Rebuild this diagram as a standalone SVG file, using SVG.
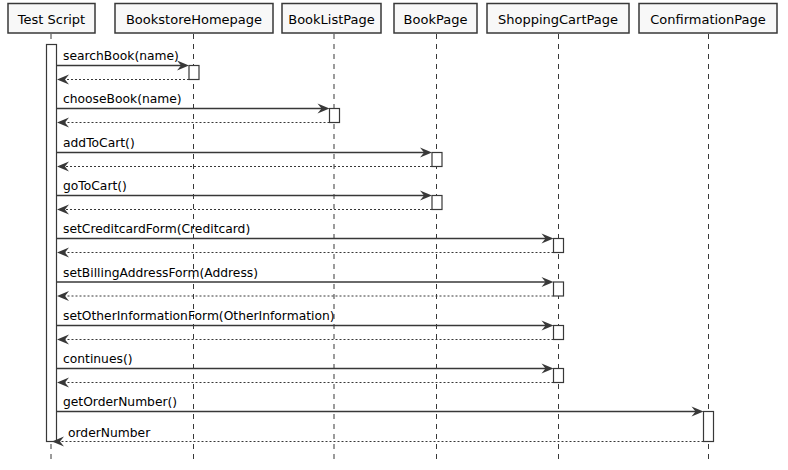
<svg xmlns="http://www.w3.org/2000/svg" width="788" height="470" viewBox="0 0 788 470">
<style>
.hd{fill:#F8F8F8;stroke:#383838;stroke-width:1.5}
.ht{font-family:"DejaVu Sans",sans-serif;font-size:13px;fill:#000;text-anchor:middle}
.ll{stroke:#383838;stroke-width:1;stroke-dasharray:5,5}
.act{fill:#fff;stroke:#383838;stroke-width:1.2}
.msg{stroke:#383838;stroke-width:1.3;fill:none}
.ret{stroke:#383838;stroke-width:1;stroke-dasharray:2,2;fill:none}
.ml{font-family:"DejaVu Sans",sans-serif;font-size:12.3px;fill:#000}
.ah{fill:#383838}
</style>
<g id="lifelines">
<line class="ll" x1="51" y1="34" x2="51" y2="462"/>
<line class="ll" x1="193.5" y1="34" x2="193.5" y2="462"/>
<line class="ll" x1="334" y1="34" x2="334" y2="462"/>
<line class="ll" x1="436.5" y1="34" x2="436.5" y2="462"/>
<line class="ll" x1="558.5" y1="34" x2="558.5" y2="462"/>
<line class="ll" x1="708.5" y1="34" x2="708.5" y2="462"/>
</g>
<g id="TestScript"><rect class="hd" x="8" y="3.5" width="87" height="29.5"/><text class="ht" x="51.5" y="23.5">Test Script</text></g>
<g id="BookstoreHomepage"><rect class="hd" x="115" y="3.5" width="158" height="29.5"/><text class="ht" x="194" y="23.5">BookstoreHomepage</text></g>
<g id="BookListPage"><rect class="hd" x="282" y="3.5" width="99" height="29.5"/><text class="ht" x="331.5" y="23.5">BookListPage</text></g>
<g id="BookPage"><rect class="hd" x="394" y="3.5" width="83" height="29.5"/><text class="ht" x="435.5" y="23.5">BookPage</text></g>
<g id="ShoppingCartPage"><rect class="hd" x="487" y="3.5" width="142" height="29.5"/><text class="ht" x="558" y="23.5">ShoppingCartPage</text></g>
<g id="ConfirmationPage"><rect class="hd" x="639" y="3.5" width="138" height="29.5"/><text class="ht" x="708" y="23.5">ConfirmationPage</text></g>
<g id="activations">
<rect class="act" x="46.5" y="44.5" width="10" height="397"/>
<rect class="act" x="189" y="65.5" width="10" height="14"/>
<rect class="act" x="329.5" y="108.5" width="10" height="14"/>
<rect class="act" x="432" y="152.5" width="10" height="14"/>
<rect class="act" x="432" y="195.5" width="10" height="14"/>
<rect class="act" x="553.5" y="238.5" width="10" height="14"/>
<rect class="act" x="553.5" y="282" width="10" height="14"/>
<rect class="act" x="553.5" y="325.5" width="10" height="14"/>
<rect class="act" x="553.5" y="368.5" width="10" height="14"/>
<rect class="act" x="703.5" y="411.5" width="10" height="30"/>
</g>
<g id="connectors">
<line class="msg" x1="57" y1="65.5" x2="185" y2="65.5"/><path class="ah" d="M189,65.5 L177,60.5 L181,65.5 L177,70.5 Z"/>
<text class="ml" x="63" y="60">searchBook(name)</text>
<line class="ret" x1="189" y1="79.5" x2="61" y2="79.5"/><path class="ah" d="M57,79.5 L69,74.5 L65,79.5 L69,84.5 Z"/>

<line class="msg" x1="57" y1="108.5" x2="325.5" y2="108.5"/><path class="ah" d="M329.5,108.5 L317.5,103.5 L321.5,108.5 L317.5,113.5 Z"/>
<text class="ml" x="63" y="103">chooseBook(name)</text>
<line class="ret" x1="329.5" y1="122.5" x2="61" y2="122.5"/><path class="ah" d="M57,122.5 L69,117.5 L65,122.5 L69,127.5 Z"/>

<line class="msg" x1="57" y1="152.5" x2="428" y2="152.5"/><path class="ah" d="M432,152.5 L420,147.5 L424,152.5 L420,157.5 Z"/>
<text class="ml" x="63" y="147">addToCart()</text>
<line class="ret" x1="432" y1="166.5" x2="61" y2="166.5"/><path class="ah" d="M57,166.5 L69,161.5 L65,166.5 L69,171.5 Z"/>

<line class="msg" x1="57" y1="195.5" x2="428" y2="195.5"/><path class="ah" d="M432,195.5 L420,190.5 L424,195.5 L420,200.5 Z"/>
<text class="ml" x="63" y="190">goToCart()</text>
<line class="ret" x1="432" y1="209.5" x2="61" y2="209.5"/><path class="ah" d="M57,209.5 L69,204.5 L65,209.5 L69,214.5 Z"/>

<line class="msg" x1="57" y1="238.5" x2="549.5" y2="238.5"/><path class="ah" d="M553.5,238.5 L541.5,233.5 L545.5,238.5 L541.5,243.5 Z"/>
<text class="ml" x="63" y="233">setCreditcardForm(Creditcard)</text>
<line class="ret" x1="553.5" y1="252.5" x2="61" y2="252.5"/><path class="ah" d="M57,252.5 L69,247.5 L65,252.5 L69,257.5 Z"/>

<line class="msg" x1="57" y1="282" x2="549.5" y2="282"/><path class="ah" d="M553.5,282 L541.5,277 L545.5,282 L541.5,287 Z"/>
<text class="ml" x="63" y="276.5">setBillingAddressForm(Address)</text>
<line class="ret" x1="553.5" y1="296" x2="61" y2="296"/><path class="ah" d="M57,296 L69,291 L65,296 L69,301 Z"/>

<line class="msg" x1="57" y1="325.5" x2="549.5" y2="325.5"/><path class="ah" d="M553.5,325.5 L541.5,320.5 L545.5,325.5 L541.5,330.5 Z"/>
<text class="ml" x="63" y="320">setOtherInformationForm(OtherInformation)</text>
<line class="ret" x1="553.5" y1="339.5" x2="61" y2="339.5"/><path class="ah" d="M57,339.5 L69,334.5 L65,339.5 L69,344.5 Z"/>

<line class="msg" x1="57" y1="368.5" x2="549.5" y2="368.5"/><path class="ah" d="M553.5,368.5 L541.5,363.5 L545.5,368.5 L541.5,373.5 Z"/>
<text class="ml" x="63" y="363">continues()</text>
<line class="ret" x1="553.5" y1="382.5" x2="61" y2="382.5"/><path class="ah" d="M57,382.5 L69,377.5 L65,382.5 L69,387.5 Z"/>

<line class="msg" x1="57" y1="411.5" x2="699.5" y2="411.5"/><path class="ah" d="M703.5,411.5 L691.5,406.5 L695.5,411.5 L691.5,416.5 Z"/>
<text class="ml" x="63" y="406">getOrderNumber()</text>
<line class="ret" x1="703.5" y1="441.5" x2="56" y2="441.5"/><path class="ah" d="M52,441.5 L64,436.5 L60,441.5 L64,446.5 Z"/>
<text class="ml" x="68" y="436.5">orderNumber</text>
</g>
</svg>
